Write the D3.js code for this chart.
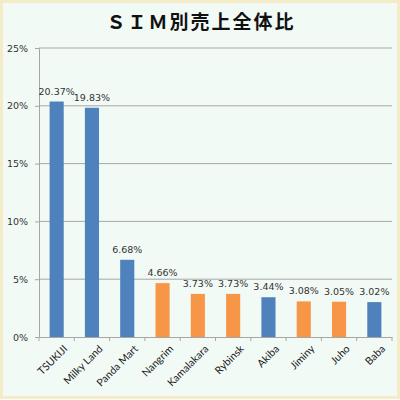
<!DOCTYPE html>
<html><head><meta charset="utf-8">
<script src="https://cdn.jsdelivr.net/npm/d3@7"></script>
<style>html,body{margin:0;padding:0;background:#fff}</style>
</head><body>
<svg id="c" width="400" height="400"></svg>
<script>
const categories = ["TSUKIJI","Milky Land","Panda Mart","Nangrim","Kamalakara","Rybinsk","Akiba","Jiminy","Juho","Baba"];
const values = [20.37,19.83,6.68,4.66,3.73,3.73,3.44,3.08,3.05,3.02];
const groups = ["a","a","a","b","b","b","a","b","b","a"];
const yTicks = [0,5,10,15,20,25];
const title = "ＳＩＭ別売上全体比";

const svg = d3.select("#c");
svg.append("rect").attr("x",1.5).attr("y",1.5).attr("width",397).attr("height",396)
  .attr("fill","#f2faf6").attr("stroke","#f3ecc6").attr("stroke-width",3);

const m = {l:39, r:392, t:48, b:337};
const x = d3.scaleBand().domain(categories).range([m.l,m.r]).paddingInner(0.6).paddingOuter(0.3);
const y = d3.scaleLinear().domain([0,25]).range([m.b,m.t]);
const color = d3.scaleOrdinal().domain(["a","b"]).range(["#4f81bd","#f79646"]);

svg.append("text").attr("x",201).attr("y",29).attr("text-anchor","middle")
  .attr("font-family","'Noto Sans CJK JP'").attr("font-weight","bold").attr("font-size",19)
  .attr("letter-spacing",2).attr("fill","#111").text(title);

// grid
svg.append("g").selectAll("line").data(yTicks.filter(d=>d>0)).join("line")
  .attr("x1",m.l).attr("x2",m.r).attr("y1",d=>y(d)).attr("y2",d=>y(d))
  .attr("stroke","#a6a6a6").attr("stroke-width",1);

const ya = svg.append("g").attr("transform",`translate(${m.l},0)`)
  .call(d3.axisLeft(y).tickValues(yTicks).tickFormat(d=>d+"%").tickSize(4).tickPadding(7));
ya.select(".domain").attr("stroke","#a6a6a6");
ya.selectAll(".tick line").attr("stroke","#a6a6a6");
ya.selectAll("text").attr("font-family","'DejaVu Sans'").attr("font-size",9.5).attr("fill","#333");

const xa = svg.append("g").attr("transform",`translate(0,${m.b})`)
  .call(d3.axisBottom(x).tickSize(0).tickPadding(6));
xa.select(".domain").attr("stroke","#a6a6a6");
const bw = (m.r-m.l)/categories.length;
xa.selectAll(".bt").data(d3.range(categories.length+1)).join("line").attr("class","bt")
  .attr("x1",i=>m.l+i*bw).attr("x2",i=>m.l+i*bw).attr("y1",0).attr("y2",4).attr("stroke","#a6a6a6");
xa.selectAll(".tick text").attr("font-family","Lato").attr("font-size",10.5).attr("fill","#222")
  .attr("text-anchor","end").attr("dy","0.3em").attr("transform","translate(5,6) rotate(-45)");

svg.append("g").selectAll("rect").data(categories).join("rect")
  .attr("x",d=>x(d)).attr("width",x.bandwidth())
  .attr("y",(d,i)=>y(values[i])).attr("height",(d,i)=>y(0)-y(values[i]))
  .attr("fill",(d,i)=>color(groups[i]));

svg.append("g").selectAll("text").data(categories).join("text")
  .attr("x",d=>x(d)+x.bandwidth()/2).attr("y",(d,i)=>y(values[i])-7)
  .attr("text-anchor","middle").attr("font-family","'DejaVu Sans'").attr("font-size",9.5)
  .attr("fill","#333").text((d,i)=>values[i].toFixed(2)+"%");
</script>
</body></html>
